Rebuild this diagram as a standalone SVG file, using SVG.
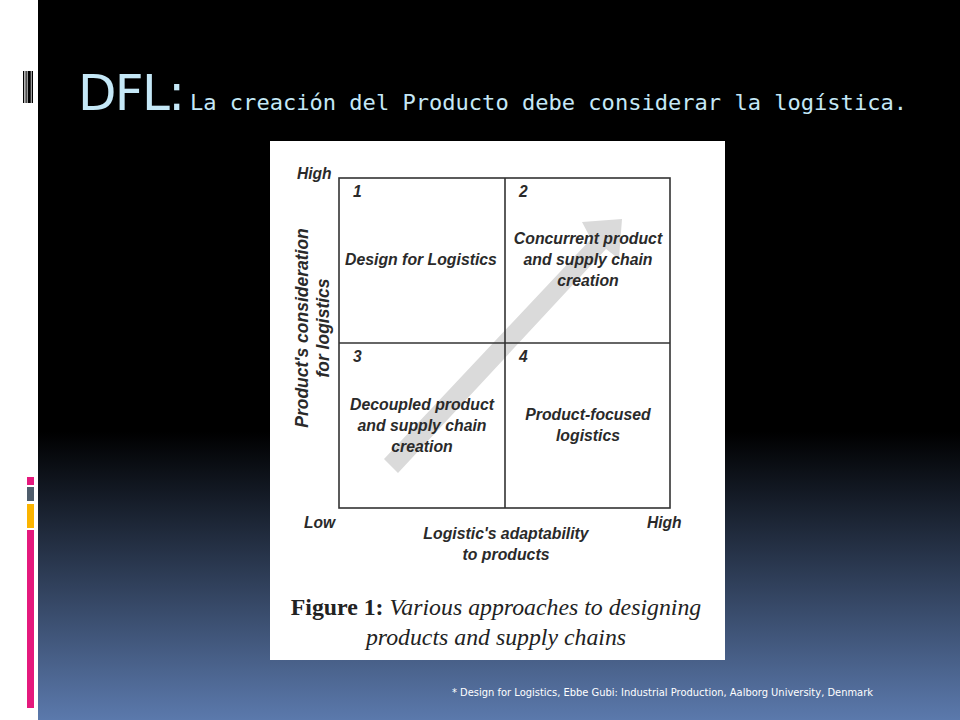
<svg xmlns="http://www.w3.org/2000/svg" width="960" height="720" viewBox="0 0 960 720">
<defs>
<linearGradient id="bg" x1="0" y1="0" x2="0" y2="1">
<stop offset="0" stop-color="#000000"/>
<stop offset="0.6" stop-color="#000000"/>
<stop offset="1" stop-color="#5b79ac"/>
</linearGradient>
<style>
.ax{font-family:"Liberation Sans",Arial,sans-serif;font-weight:bold;font-style:italic;font-size:15.6px;fill:#2a2a2a}
.q{font-family:"Liberation Sans",Arial,sans-serif;font-weight:bold;font-style:italic;font-size:15.8px;fill:#2a2a2a;text-anchor:middle}
.yl{font-family:"Liberation Sans",Arial,sans-serif;font-weight:bold;font-style:italic;font-size:17.5px;fill:#2a2a2a;text-anchor:middle}
.grid{fill:none;stroke:#333;stroke-width:1.6}
.cap{font-family:"Liberation Serif","Times New Roman",serif;font-size:23.8px;fill:#222}
</style>
</defs>
<rect x="0" y="0" width="960" height="720" fill="#ffffff"/>
<rect x="38" y="0" width="922" height="720" fill="url(#bg)"/>
<g id="barcode" fill="#000">
<rect x="23" y="71" width="1.3" height="32"/>
<rect x="25.5" y="71" width="1.2" height="32"/>
<rect x="27.6" y="71" width="3.2" height="32"/>
<rect x="31.6" y="71" width="1.4" height="32"/>
</g>
<g id="colorbars">
<rect x="27" y="477" width="7" height="8" fill="#e5197d"/>
<rect x="27" y="487" width="7" height="14" fill="#4f5d6c"/>
<rect x="27" y="504" width="7" height="24" fill="#fbb400"/>
<rect x="27" y="530" width="7" height="178" fill="#e5197d"/>
</g>
<g id="title">
<text x="78" y="110" font-family="'DejaVu Sans',sans-serif" font-size="50" fill="#c5e8f7" textLength="107" lengthAdjust="spacing">DFL:</text>
<text x="190" y="110" font-family="'DejaVu Sans Mono','Liberation Mono',monospace" font-size="22" fill="#c5e8f7" textLength="717" lengthAdjust="spacingAndGlyphs">La creación del Producto debe considerar la logística.</text>
</g>
<g id="figure">
<rect x="270" y="141" width="455" height="519" fill="#ffffff"/>
<g id="arrow" fill="#dadada">
<polygon points="384,459 591,239 582,222 622,219 619,259 606,249 398,473"/>
</g>
<g id="grid">
<rect class="grid" x="339" y="178" width="331" height="330"/>
<line class="grid" x1="505" y1="178" x2="505" y2="508"/>
<line class="grid" x1="339" y1="343" x2="670" y2="343"/>
</g>
<g id="q1"><text class="ax" x="353" y="197">1</text><text class="q" x="421" y="265">Design for Logistics</text></g>
<g id="q2"><text class="ax" x="519" y="197">2</text><text class="q" x="588" y="244">Concurrent product</text><text class="q" x="588" y="265">and supply chain</text><text class="q" x="588" y="286">creation</text></g>
<g id="q3"><text class="ax" x="353" y="362">3</text><text class="q" x="422" y="410">Decoupled product</text><text class="q" x="422" y="431">and supply chain</text><text class="q" x="422" y="452">creation</text></g>
<g id="q4"><text class="ax" x="519" y="362">4</text><text class="q" x="588" y="420">Product-focused</text><text class="q" x="588" y="441">logistics</text></g>
<g id="axes">
<text class="ax" x="297" y="179">High</text>
<text class="ax" x="304" y="528">Low</text>
<text class="ax" x="647" y="528">High</text>
<text class="q" x="506" y="539">Logistic's adaptability</text>
<text class="q" x="506" y="560">to products</text>
<text class="yl" transform="translate(308,328) rotate(-90)">Product's consideration</text>
<text class="yl" transform="translate(329,328) rotate(-90)">for logistics</text>
</g>
<g id="caption">
<text class="cap" x="496" y="615" text-anchor="middle"><tspan font-weight="bold">Figure 1:</tspan><tspan font-style="italic"> Various approaches to designing</tspan></text>
<text class="cap" x="496" y="645" text-anchor="middle" font-style="italic">products and supply chains</text>
</g>
</g>
<g id="footer">
<text x="452" y="696" font-family="'DejaVu Sans',sans-serif" font-size="10" fill="#ffffff" textLength="421" lengthAdjust="spacingAndGlyphs">* Design for Logistics, Ebbe Gubi: Industrial Production, Aalborg University, Denmark</text>
</g>
</svg>
